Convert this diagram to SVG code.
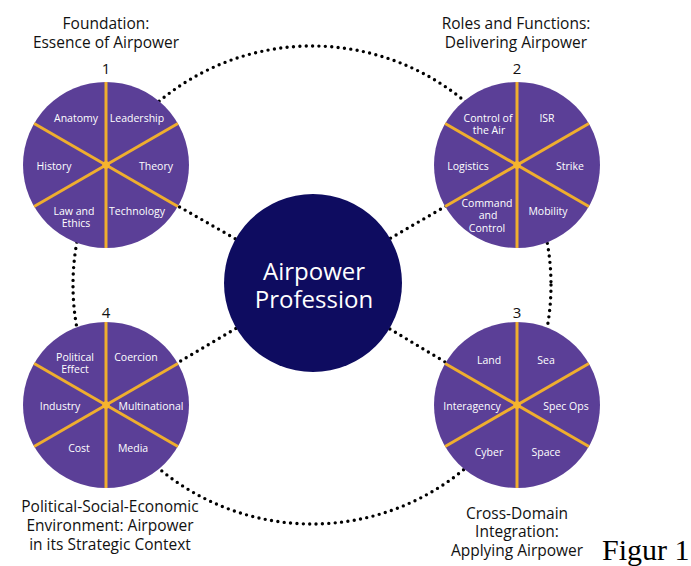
<svg xmlns="http://www.w3.org/2000/svg" xmlns:xlink="http://www.w3.org/1999/xlink" width="691" height="566" viewBox="0 0 691 566">
<style>
.dot{fill:none;stroke:#000;stroke-width:3.4;stroke-dasharray:0 6.4;stroke-linecap:round}
.title{font-family:"Open Sans","DejaVu Sans",sans-serif;font-size:15.5px;fill:#111;text-anchor:middle}
.num{font-family:"Open Sans","DejaVu Sans",sans-serif;font-size:15px;fill:#111;text-anchor:middle}
.lbl{font-family:"Open Sans","DejaVu Sans",sans-serif;font-size:10.5px;fill:#fff;text-anchor:middle}
.ctr{font-family:"Open Sans","DejaVu Sans",sans-serif;font-size:24px;fill:#fff;text-anchor:middle}
.fig{font-family:"Liberation Serif","Times New Roman",serif;font-size:30px;fill:#000}
</style>
<defs>
<g id="wheel">
<circle r="83" fill="#5B3F97"/>
<g stroke="#EFAE2E" stroke-width="3">
<line x1="0" y1="-83" x2="0" y2="83"/>
<line x1="-71.9" y1="-41.5" x2="71.9" y2="41.5"/>
<line x1="-71.9" y1="41.5" x2="71.9" y2="-41.5"/>
</g>
<circle r="3.8" fill="#F5B42E"/>
</g>
</defs>
<rect width="691" height="566" fill="#fff"/>
<g id="connectors">
<circle class="dot" cx="312" cy="285" r="239"/>
<line class="dot" x1="313" y1="283" x2="106" y2="165"/>
<line class="dot" x1="313" y1="283" x2="517" y2="165"/>
<line class="dot" x1="313" y1="283" x2="106" y2="405"/>
<line class="dot" x1="313" y1="283" x2="517" y2="405"/>
</g>
<g id="node1">
<text class="title" x="106" y="29">Foundation:<tspan x="106" dy="19">Essence of Airpower</tspan></text>
<text class="num" x="106" y="74">1</text>
<use xlink:href="#wheel" x="106" y="165"/>
<text class="lbl" x="76" y="122">Anatomy</text>
<text class="lbl" x="137" y="122">Leadership</text>
<text class="lbl" x="54" y="170">History</text>
<text class="lbl" x="156" y="170">Theory</text>
<text class="lbl" x="74" y="215">Law and<tspan x="76" dy="12">Ethics</tspan></text>
<text class="lbl" x="137" y="215">Technology</text>
</g>
<g id="node2">
<text class="title" x="516" y="29">Roles and Functions:<tspan x="516" dy="19">Delivering Airpower</tspan></text>
<text class="num" x="517" y="74">2</text>
<use xlink:href="#wheel" x="517" y="165"/>
<text class="lbl" x="488" y="122">Control of<tspan x="489" dy="12">the Air</tspan></text>
<text class="lbl" x="547" y="122">ISR</text>
<text class="lbl" x="468" y="170">Logistics</text>
<text class="lbl" x="570" y="170">Strike</text>
<text class="lbl" x="487" y="207">Command<tspan x="488" dy="12">and</tspan><tspan x="487" dy="13">Control</tspan></text>
<text class="lbl" x="548" y="215">Mobility</text>
</g>
<g id="node3">
<text class="num" x="517" y="318">3</text>
<use xlink:href="#wheel" x="517" y="405"/>
<text class="lbl" x="489" y="364">Land</text>
<text class="lbl" x="546" y="364">Sea</text>
<text class="lbl" x="472" y="410">Interagency</text>
<text class="lbl" x="566" y="410">Spec Ops</text>
<text class="lbl" x="489" y="456">Cyber</text>
<text class="lbl" x="546" y="456">Space</text>
<text class="title" x="517" y="519">Cross-Domain<tspan x="517" dy="18">Integration:</tspan><tspan x="517" dy="19">Applying Airpower</tspan></text>
</g>
<g id="node4">
<text class="num" x="106" y="318">4</text>
<use xlink:href="#wheel" x="106" y="405"/>
<text class="lbl" x="75" y="361">Political<tspan x="75" dy="12">Effect</tspan></text>
<text class="lbl" x="136" y="361">Coercion</text>
<text class="lbl" x="60" y="410">Industry</text>
<text class="lbl" x="151" y="410">Multinational</text>
<text class="lbl" x="79" y="452">Cost</text>
<text class="lbl" x="133" y="452">Media</text>
<text class="title" x="110" y="512">Political-Social-Economic<tspan x="110" dy="19">Environment: Airpower</tspan><tspan x="110" dy="19">in its Strategic Context</tspan></text>
</g>
<g id="center">
<circle cx="313" cy="283" r="89" fill="#0E0C60"/>
<text class="ctr" x="314" y="280">Airpower<tspan x="314" dy="28">Profession</tspan></text>
</g>
<text class="fig" x="602" y="560">Figur 1</text>
</svg>
